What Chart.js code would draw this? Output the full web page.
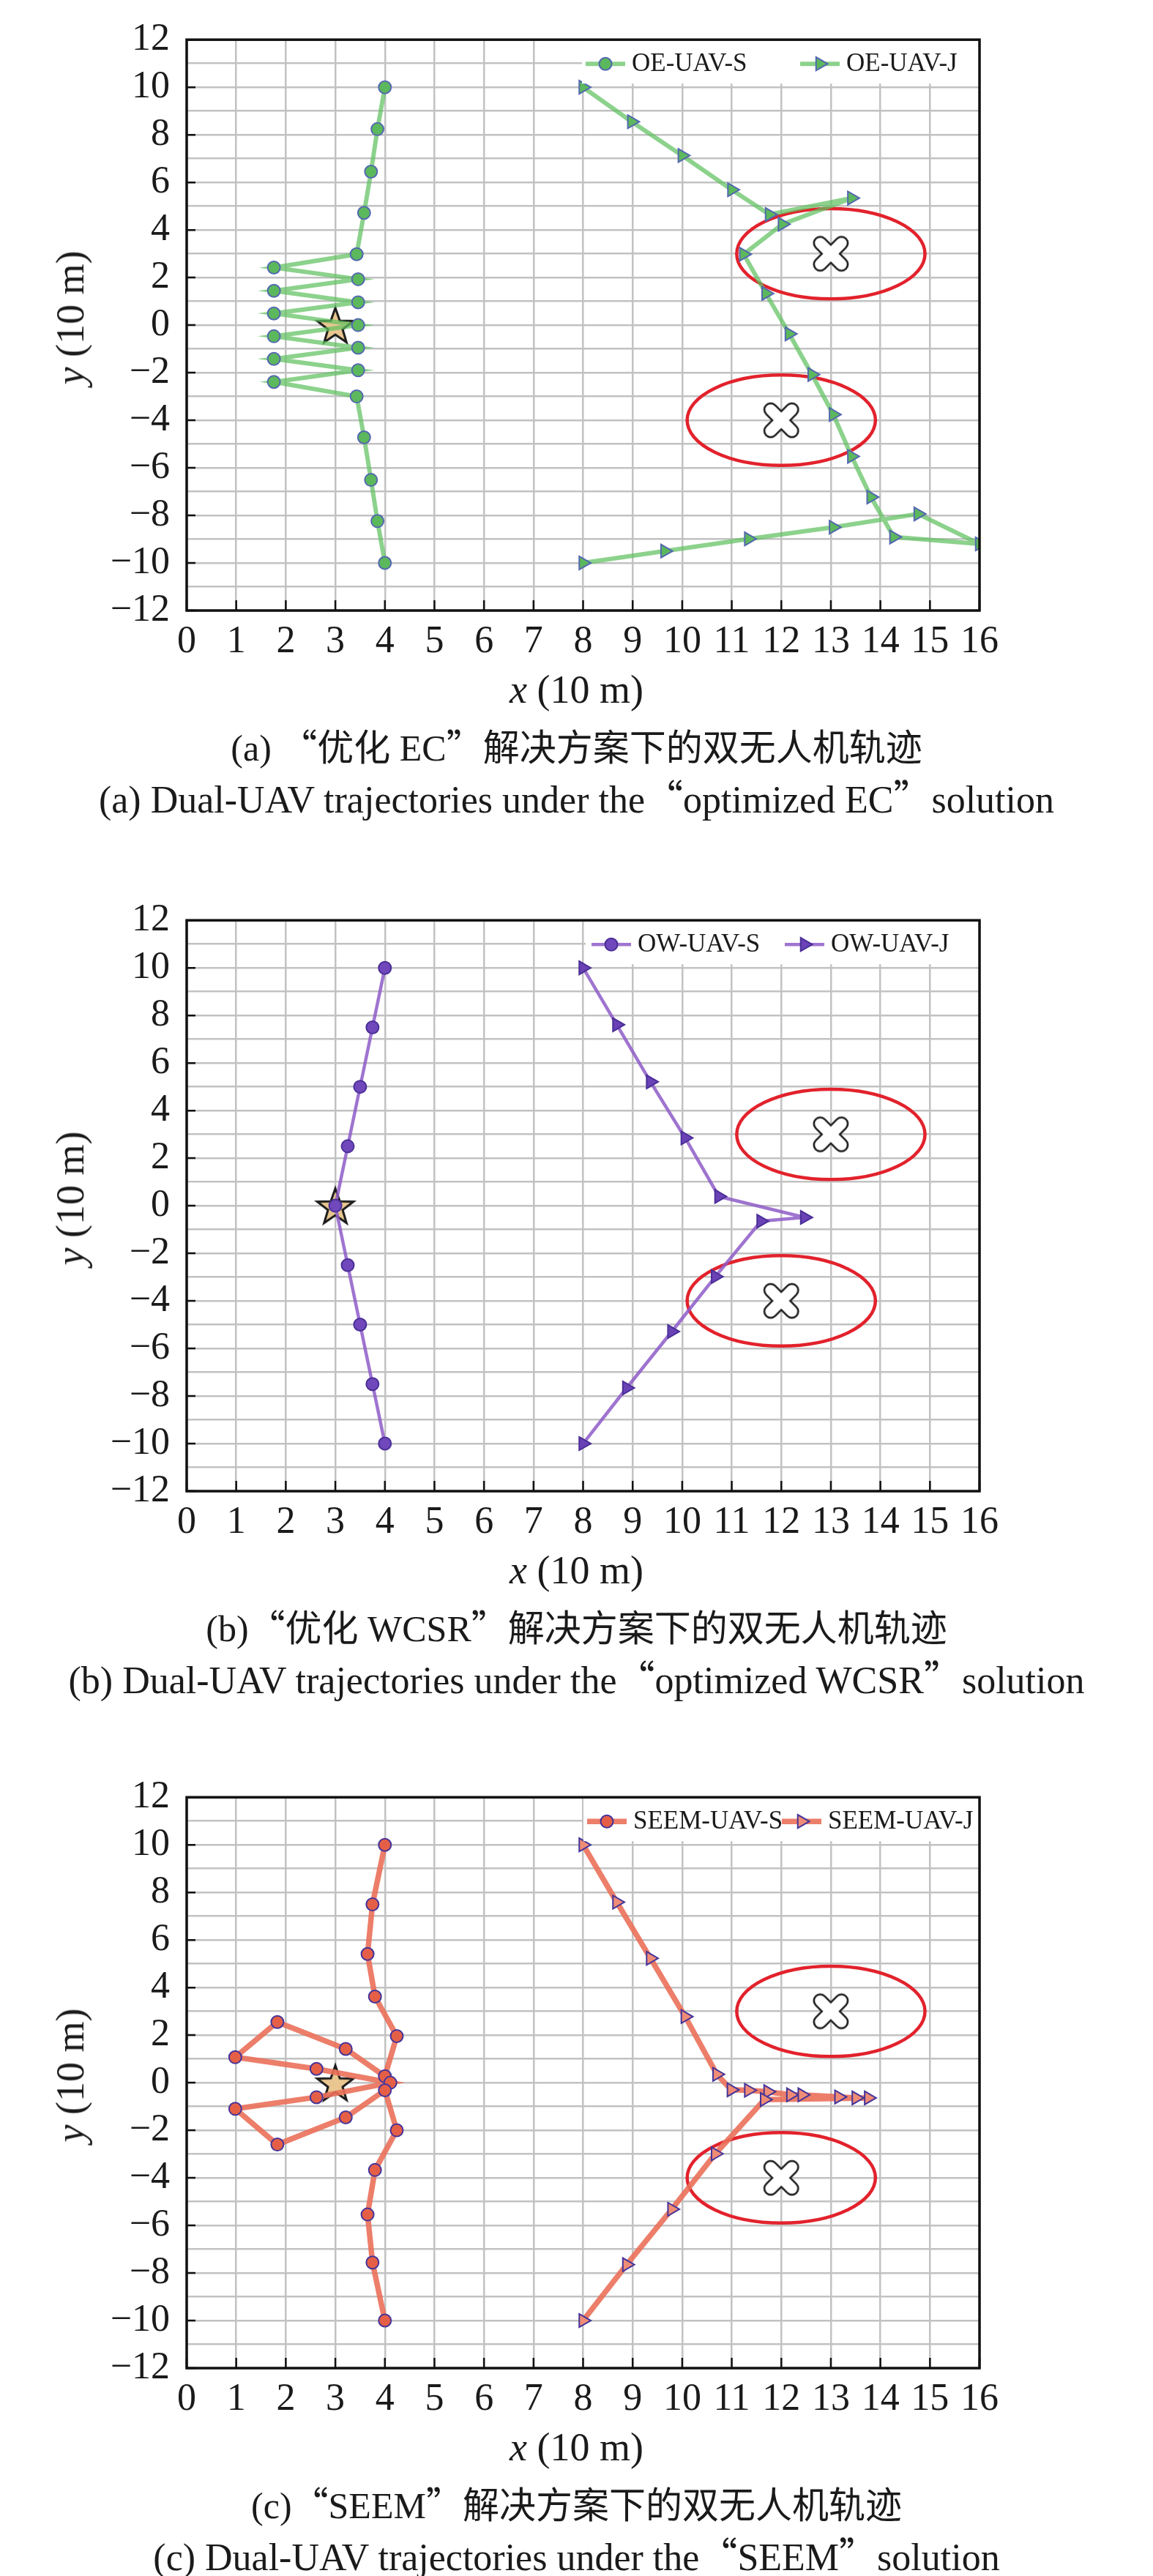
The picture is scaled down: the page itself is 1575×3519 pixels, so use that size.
<!DOCTYPE html>
<html lang="zh">
<head>
  <meta charset="UTF-8">
  <title>双无人机轨迹</title>
  <script src="https://cdn.jsdelivr.net/npm/chart.js"></script>
  <style>
    * { box-sizing: border-box; margin: 0; padding: 0; }

    body {
      width: 1575px;
      height: 3519px;
      background: #fff;
      color: #1a1a1a;
      font-family: 'Liberation Serif', 'Noto Sans CJK SC', serif;
      overflow: hidden;
      position: relative;
    }

    .panel { position: absolute; left: 0; width: 1575px; }
    .panel canvas { display: block; }

    .ytitle {
      position: absolute;
      left: 96px;
      font-size: 54px;
      line-height: 1;
      white-space: nowrap;
      transform: translate(-50%, -50%) rotate(-90deg);
    }

    .xtitle, .cap-zh, .cap-en {
      position: absolute;
      left: 0;
      width: 1575px;
      height: 64px;
      line-height: 64px;
      text-align: center;
      white-space: nowrap;
    }
    .xtitle { font-size: 54px; }
    .cap-zh { font-size: 50px; }
    .cap-en { font-size: 52px; }
    .q { font-family: 'Noto Sans CJK SC', sans-serif; }
  </style>
</head>
<body>
  <script>
    // ---- data (units of 10 m) ----
    const xTickValues = [0, 1, 2, 3, 4, 5, 6, 7, 8, 9, 10, 11, 12, 13, 14, 15, 16];
    const yTickValues = [-12, -10, -8, -6, -4, -2, 0, 2, 4, 6, 8, 10, 12];

    // ground user (star) and the two eavesdropper zones
    const userX = [3];
    const userY = [0];
    const eveX = [13, 12];
    const eveY = [3, -4];
    const eveRadius = [1.9, 1.9];

    // (a) optimized EC
    const ecSx = [4, 3.85, 3.72, 3.58, 3.43, 1.76, 3.46, 1.76, 3.46, 1.76, 3.46, 1.76, 3.46, 1.76, 3.46, 1.76, 3.43, 3.58, 3.72, 3.85, 4];
    const ecSy = [10, 8.24, 6.45, 4.72, 2.98, 2.42, 1.93, 1.44, 0.96, 0.49, 0, -0.47, -0.95, -1.42, -1.9, -2.39, -3.0, -4.72, -6.51, -8.24, -10];
    const ecJx = [8, 8.98, 10.0, 11.0, 11.76, 13.42, 12.02, 11.24, 11.69, 12.16, 12.62, 13.05, 13.42, 13.81, 14.27, 16, 14.76, 13.05, 11.34, 9.65, 8];
    const ecJy = [10, 8.55, 7.13, 5.69, 4.65, 5.34, 4.24, 2.98, 1.33, -0.37, -2.08, -3.76, -5.52, -7.23, -8.91, -9.2, -7.94, -8.5, -8.99, -9.5, -10];

    // (b) optimized WCSR
    const wcSx = [4, 3.75, 3.5, 3.25, 3, 3.25, 3.5, 3.75, 4];
    const wcSy = [10, 7.5, 5, 2.5, 0, -2.5, -5, -7.5, -10];
    const wcJx = [8, 8.68, 9.36, 10.06, 10.74, 12.47, 11.59, 10.67, 9.79, 8.88, 8];
    const wcJy = [10, 7.61, 5.21, 2.85, 0.39, -0.49, -0.65, -2.98, -5.29, -7.66, -10];

    // (c) SEEM
    const seSx = [4, 3.75, 3.65, 3.8, 4.24, 4.0, 3.21, 1.83, 0.98, 2.62, 4.11, 2.62, 0.98, 1.83, 3.21, 4.0, 4.24, 3.8, 3.65, 3.75, 4];
    const seSy = [10, 7.5, 5.41, 3.62, 1.96, 0.27, 1.42, 2.55, 1.07, 0.58, 0, -0.61, -1.1, -2.6, -1.46, -0.32, -2.0, -3.67, -5.54, -7.56, -10];
    const seJx = [8, 8.68, 9.36, 10.06, 10.70, 10.99, 11.34, 11.73, 12.19, 12.42, 13.16, 13.51, 13.76, 11.66, 10.67, 9.79, 8.88, 8];
    const seJy = [10, 7.59, 5.23, 2.78, 0.35, -0.30, -0.32, -0.38, -0.51, -0.51, -0.60, -0.64, -0.64, -0.71, -2.99, -5.32, -7.65, -10];

    // ---- layout ----
    const CANVAS_W = 1575;
    const PLOT_LEFT = 255;
    const PLOT_RIGHT = 1338;
    const PLOT_H = 801;
    const PAD_TOP = 33;
    const XAXIS_H = 79;
    const CANVAS_H = PAD_TOP + PLOT_H + XAXIS_H;

    const panels = [
      {
        top: 33, sx: ecSx, sy: ecSy, jx: ecJx, jy: ecJy,
        names: ['OE-UAV-S', 'OE-UAV-J'],
        line: 'rgba(96, 192, 96, 0.72)', lineWidth: 6,
        sFill: '#5cb85c', jFill: '#5cb85c', edge: '#5468b0',
        legendLeft: 795, legendX: [800, 1093],
        zh: '(a) <span class="q">“</span>优化 EC<span class="q">”</span>解决方案下的双无人机轨迹',
        en: '(a) Dual-UAV trajectories under the<span class="q">“</span>optimized EC<span class="q">”</span>solution'
      },
      {
        top: 1236, sx: wcSx, sy: wcSy, jx: wcJx, jy: wcJy,
        names: ['OW-UAV-S', 'OW-UAV-J'],
        line: 'rgba(142, 92, 200, 0.85)', lineWidth: 4.5,
        sFill: '#7048bb', jFill: '#6a42b6', edge: '#4a2f98',
        legendLeft: 800, legendX: [808, 1072],
        zh: '(b)<span class="q">“</span>优化 WCSR<span class="q">”</span>解决方案下的双无人机轨迹',
        en: '(b) Dual-UAV trajectories under the<span class="q">“</span>optimized WCSR<span class="q">”</span>solution'
      },
      {
        top: 2434, sx: seSx, sy: seSy, jx: seJx, jy: seJy,
        names: ['SEEM-UAV-S', 'SEEM-UAV-J'],
        line: 'rgba(234, 112, 90, 0.9)', lineWidth: 7.5,
        sFill: '#e55f47', jFill: '#f08c76', edge: '#44349a',
        legendLeft: 797, legendX: [802, 1068],
        zh: '(c)<span class="q">“</span>SEEM<span class="q">”</span>解决方案下的双无人机轨迹',
        en: '(c) Dual-UAV trajectories under the<span class="q">“</span>SEEM<span class="q">”</span>solution'
      }
    ];

    const toPoints = (xs, ys) => xs.map((x, i) => ({ x, y: ys[i] }));
    const minus = v => String(v).replace('-', '\u2212');

    // star marker for the ground user
    function makeStar() {
      const c = document.createElement('canvas');
      c.width = 60; c.height = 60;
      const g = c.getContext('2d');
      g.translate(30, 32.5);
      g.beginPath();
      for (let i = 0; i < 10; i++) {
        const r = i % 2 ? 10.5 : 26;
        const a = -Math.PI / 2 + i * Math.PI / 5;
        g.lineTo(r * Math.cos(a), r * Math.sin(a));
      }
      g.closePath();
      g.fillStyle = '#e9c690';
      g.fill();
      g.lineWidth = 3;
      g.strokeStyle = '#1c1c1c';
      g.stroke();
      return c;
    }

    // outlined fat cross for an eavesdropper
    function makeCross() {
      const c = document.createElement('canvas');
      c.width = 56; c.height = 56;
      const g = c.getContext('2d');
      g.translate(28, 28);
      g.lineCap = 'round';
      const a = 14.5;
      const stroke = (w, col) => {
        g.strokeStyle = col;
        g.lineWidth = w;
        g.beginPath();
        g.moveTo(-a, -a); g.lineTo(a, a);
        g.moveTo(a, -a); g.lineTo(-a, a);
        g.stroke();
      };
      stroke(20, '#222');
      stroke(14.5, '#fff');
      return c;
    }

    const starImg = makeStar();
    const crossImg = makeCross();

    function drawMarker(ctx, kind, x, y, fill, edge) {
      ctx.save();
      ctx.fillStyle = fill;
      ctx.strokeStyle = edge;
      ctx.lineWidth = 2;
      ctx.beginPath();
      if (kind === 'circle') {
        ctx.arc(x, y, 8.5, 0, Math.PI * 2);
      } else {
        const r = 10.5;
        ctx.moveTo(x + r, y);
        ctx.lineTo(x - r / 2, y - r * 0.866);
        ctx.lineTo(x - r / 2, y + r * 0.866);
        ctx.closePath();
      }
      ctx.fill();
      ctx.stroke();
      ctx.restore();
    }

    // red circles round the eavesdroppers, under the trajectories
    const zonePlugin = {
      id: 'zones',
      beforeDatasetsDraw(chart) {
        const { ctx, scales: { x, y } } = chart;
        ctx.save();
        ctx.strokeStyle = '#e2222c';
        ctx.lineWidth = 4.5;
        eveX.forEach((ex, i) => {
          const cx = x.getPixelForValue(ex);
          const cy = y.getPixelForValue(eveY[i]);
          const rx = Math.abs(x.getPixelForValue(ex + eveRadius[i]) - cx);
          const ry = Math.abs(y.getPixelForValue(eveY[i] + eveRadius[i]) - cy);
          ctx.beginPath();
          ctx.ellipse(cx, cy, rx, ry, 0, 0, Math.PI * 2);
          ctx.stroke();
        });
        ctx.restore();
      }
    };

    // legend box inside the plot, top right
    const legendPlugin = {
      id: 'trajLegend',
      afterDatasetsDraw(chart, args, opts) {
        const { ctx, chartArea: area } = chart;
        const rowY = area.top + 33;
        ctx.save();
        ctx.fillStyle = '#fff';
        ctx.fillRect(opts.left, area.top, area.right - opts.left, 60);
        opts.items.forEach((it, i) => {
          const lx = opts.x[i];
          ctx.strokeStyle = opts.line;
          ctx.lineWidth = opts.lineWidth;
          ctx.beginPath();
          ctx.moveTo(lx, rowY);
          ctx.lineTo(lx + 54, rowY);
          ctx.stroke();
          drawMarker(ctx, it.kind, lx + 27, rowY, it.fill, opts.edge);
          ctx.fillStyle = '#1a1a1a';
          ctx.font = "35px 'Liberation Serif'";
          ctx.textBaseline = 'middle';
          ctx.fillText(it.text, lx + 63, rowY + 1);
        });
        ctx.restore();
      }
    };

    // black frame and inward ticks
    const framePlugin = {
      id: 'frame',
      afterDraw(chart) {
        const { ctx, chartArea: a, scales: { x, y } } = chart;
        ctx.save();
        ctx.strokeStyle = '#111';
        ctx.lineWidth = 2.5;
        ctx.beginPath();
        xTickValues.forEach(v => {
          const px = x.getPixelForValue(v);
          ctx.moveTo(px, a.bottom);
          ctx.lineTo(px, a.bottom - 14);
        });
        yTickValues.forEach(v => {
          const py = y.getPixelForValue(v);
          ctx.moveTo(a.left, py);
          ctx.lineTo(a.left + 12, py);
        });
        ctx.stroke();
        ctx.lineWidth = 3.5;
        ctx.strokeRect(a.left, a.top, a.right - a.left, a.bottom - a.top);
        ctx.restore();
      }
    };

    Chart.defaults.font.family = "'Liberation Serif', serif";
    Chart.defaults.font.size = 52;
    Chart.defaults.color = '#1a1a1a';

    function addText(cls, top, html) {
      const d = document.createElement('div');
      d.className = cls;
      d.style.top = top + 'px';
      d.innerHTML = html;
      document.body.appendChild(d);
    }

    panels.forEach(p => {
      const holder = document.createElement('div');
      holder.className = 'panel';
      holder.style.top = (p.top - PAD_TOP) + 'px';
      holder.style.height = CANVAS_H + 'px';
      const canvas = document.createElement('canvas');
      canvas.width = CANVAS_W;
      canvas.height = CANVAS_H;
      holder.appendChild(canvas);
      document.body.appendChild(holder);

      const bottom = p.top + PLOT_H;
      const yt = document.createElement('div');
      yt.className = 'ytitle';
      yt.style.top = (p.top + PLOT_H / 2) + 'px';
      yt.innerHTML = '<i>y</i> (10 m)';
      document.body.appendChild(yt);
      addText('xtitle', bottom + 108 - 32, '<i>x</i> (10 m)');
      addText('cap-zh', bottom + 183 - 32, p.zh);
      addText('cap-en', bottom + 254 - 32, p.en);

      new Chart(canvas, {
        type: 'scatter',
        data: {
          datasets: [
            {
              label: p.names[0],
              data: toPoints(p.sx, p.sy),
              showLine: true,
              borderColor: p.line,
              borderWidth: p.lineWidth,
              pointStyle: 'circle',
              pointRadius: 8.5,
              pointBackgroundColor: p.sFill,
              pointBorderColor: p.edge,
              pointBorderWidth: 2
            },
            {
              label: p.names[1],
              data: toPoints(p.jx, p.jy),
              showLine: true,
              borderColor: p.line,
              borderWidth: p.lineWidth,
              pointStyle: 'triangle',
              rotation: 90,
              pointRadius: 10.5,
              pointBackgroundColor: p.jFill,
              pointBorderColor: p.edge,
              pointBorderWidth: 2
            },
            {
              label: 'eavesdroppers',
              data: toPoints(eveX, eveY),
              pointStyle: crossImg,
              pointRadius: 10
            },
            {
              label: 'user',
              data: toPoints(userX, userY),
              pointStyle: starImg,
              pointRadius: 10
            }
          ]
        },
        options: {
          responsive: false,
          animation: false,
          events: [],
          layout: { padding: { top: PAD_TOP, left: 0, right: CANVAS_W - PLOT_RIGHT, bottom: 0 } },
          scales: {
            x: {
              type: 'linear',
              min: 0,
              max: 16,
              afterFit: s => { s.height = XAXIS_H; },
              border: { display: false },
              grid: { color: '#c2c2c2', lineWidth: 2.5, drawTicks: false },
              ticks: {
                stepSize: 1,
                autoSkip: false,
                maxRotation: 0,
                padding: 12,
                callback: v => xTickValues.includes(v) ? String(v) : ''
              }
            },
            y: {
              type: 'linear',
              min: -12,
              max: 12,
              afterFit: s => { s.width = PLOT_LEFT; },
              border: { display: false },
              grid: { color: '#c2c2c2', lineWidth: 2.5, drawTicks: false },
              ticks: {
                stepSize: 1,
                autoSkip: false,
                padding: 23,
                callback: v => yTickValues.includes(v) ? minus(v) : ''
              }
            }
          },
          plugins: {
            legend: { display: false },
            tooltip: { enabled: false },
            trajLegend: {
              left: p.legendLeft,
              x: p.legendX,
              line: p.line,
              lineWidth: p.lineWidth,
              edge: p.edge,
              items: [
                { kind: 'circle', fill: p.sFill, text: p.names[0] },
                { kind: 'triangle', fill: p.jFill, text: p.names[1] }
              ]
            }
          }
        },
        plugins: [zonePlugin, legendPlugin, framePlugin]
      });
    });
  </script>
</body>
</html>
